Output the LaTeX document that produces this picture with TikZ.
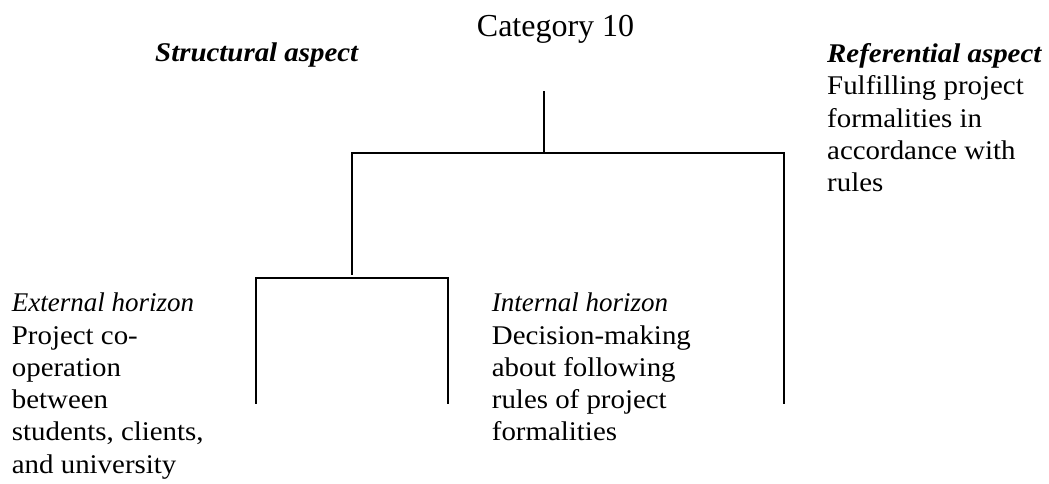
\documentclass[tikz,border=0pt]{standalone}
\usepackage{fontspec}
\setmainfont{Liberation Serif}[
  FakeStretch=1.07,
  ItalicFont={Liberation Serif Italic},
  ItalicFeatures={FakeStretch=1.0}]
\newfontfamily\catfont{Liberation Serif}
\begin{document}
\begin{tikzpicture}[x=1pt,y=-1pt,
  branch/.style={line width=1.8pt, line cap=rect},
  label/.style={inner sep=0pt, anchor=base west, align=left,
    font=\fontsize{27}{32.3}\selectfont},
  heading/.style={label, font=\fontsize{27}{32.3}\selectfont\bfseries\itshape}]
\useasboundingbox (0,0) rectangle (1049,483);

% titles and aspect labels (multi-line blocks are placed by their last baseline)
\node[inner sep=0pt, anchor=base west, font=\catfont\fontsize{32}{38}\selectfont]
  (cat) at (476.7,36.7) {Category 10};
\node[heading] (struct) at (155,61) {Structural aspect};
\node[label] (ref) at (827,191.7)
  {\textbf{\textit{Referential aspect}}\\Fulfilling project\\formalities in\\accordance with\\rules};

% horizon labels
\node[label] (ext) at (11.7,473.2)
  {\textit{External horizon}\\Project co-\\operation\\between\\students, clients,\\and university};
\node[label] (int) at (491.7,440.9)
  {\textit{Internal horizon}\\Decision-making\\about following\\rules of project\\formalities};

% tree junctions
\coordinate (root) at (543.7,92);
\coordinate (rootbar) at (543.7,153);
\coordinate (barL) at (352,153);
\coordinate (barR) at (783.7,153);
\coordinate (stemL) at (352,274);
\coordinate (subL) at (256,277.7);
\coordinate (subR) at (447.7,277.7);
\coordinate (endA) at (256,403);
\coordinate (endB) at (447.7,403);
\coordinate (endR) at (783.7,403);

% tree lines
\draw[branch] (root) -- (rootbar);
\draw[branch] (stemL) -- (barL) -- (barR) -- (endR);
\draw[branch] (endA) -- (subL) -- (subR) -- (endB);
\end{tikzpicture}
\end{document}
